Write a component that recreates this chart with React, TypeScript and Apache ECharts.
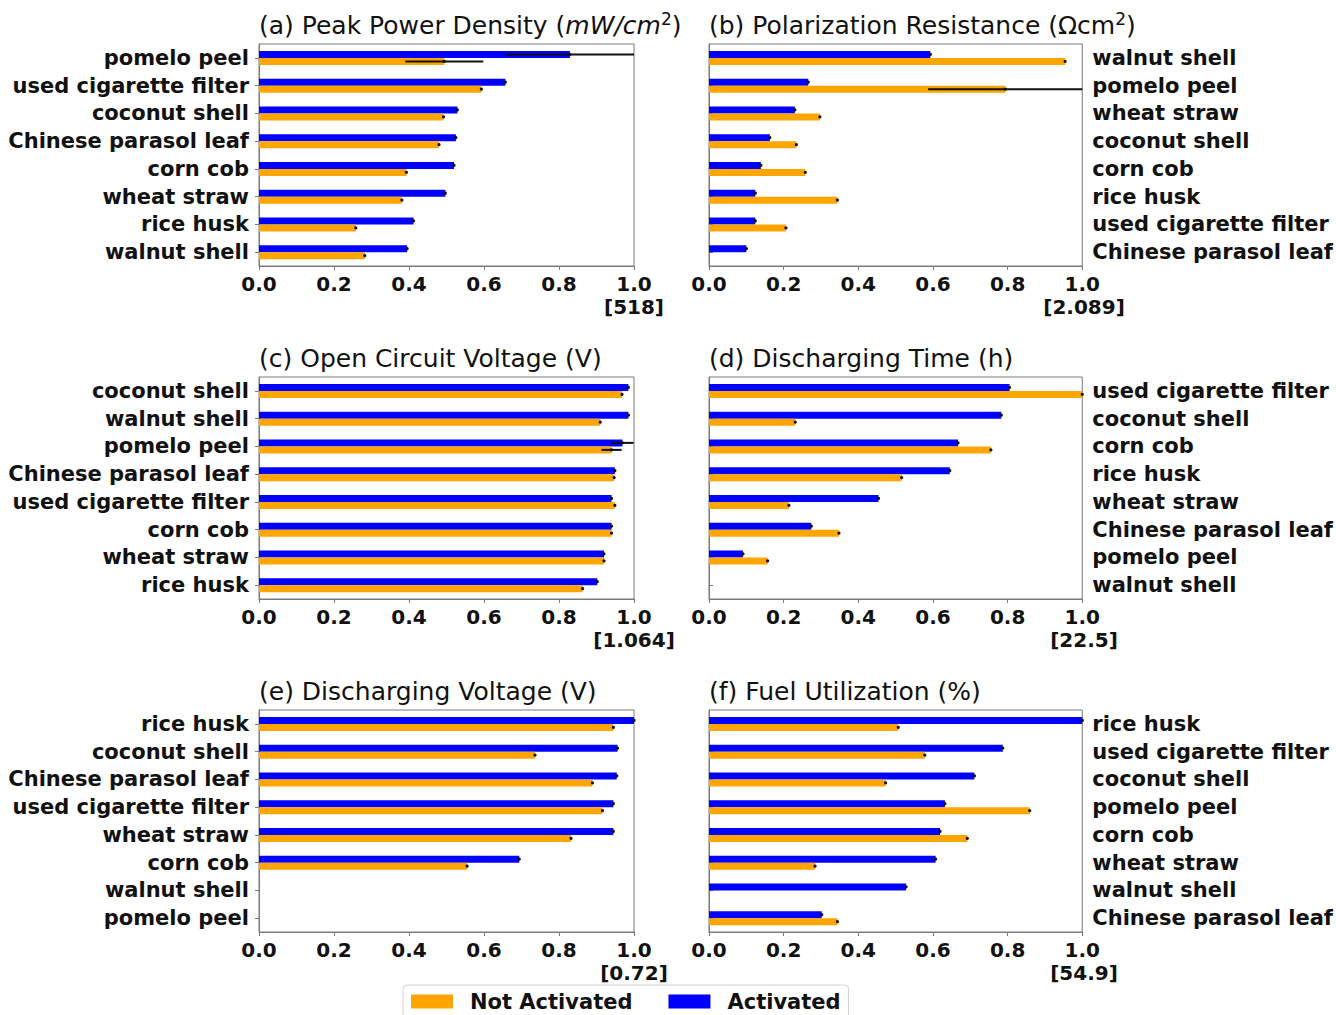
import React, { useEffect, useRef } from "react";
import * as echarts from "echarts";

// ---------- data (normalised values, 0..1) ----------
const CAT_A = ["pomelo peel", "used cigarette filter", "coconut shell", "Chinese parasol leaf", "corn cob", "wheat straw", "rice husk", "walnut shell"];
const ACT_A = [0.829, 0.657, 0.529, 0.525, 0.52, 0.497, 0.412, 0.395];
const NON_A = [0.494, 0.593, 0.492, 0.48, 0.393, 0.381, 0.258, 0.282];
const ACT_ERR_A = [0.173, 0, 0, 0, 0, 0, 0, 0];
const NON_ERR_A = [0.104, 0, 0, 0, 0, 0, 0, 0];

const CAT_B = ["walnut shell", "pomelo peel", "wheat straw", "coconut shell", "corn cob", "rice husk", "used cigarette filter", "Chinese parasol leaf"];
const ACT_B = [0.593, 0.266, 0.23, 0.163, 0.139, 0.124, 0.124, 0.1];
const NON_B = [0.954, 0.794, 0.297, 0.234, 0.258, 0.344, 0.206, null];
const ACT_ERR_B = [0, 0, 0, 0, 0, 0, 0, 0];
const NON_ERR_B = [0, 0.207, 0, 0, 0, 0, 0, 0];

const CAT_C = ["coconut shell", "walnut shell", "pomelo peel", "Chinese parasol leaf", "used cigarette filter", "corn cob", "wheat straw", "rice husk"];
const ACT_C = [0.985, 0.985, 0.969, 0.949, 0.94, 0.94, 0.92, 0.902];
const NON_C = [0.968, 0.91, 0.94, 0.947, 0.949, 0.94, 0.92, 0.863];
const ACT_ERR_C = [0, 0, 0.03, 0, 0, 0, 0, 0];
const NON_ERR_C = [0, 0, 0.027, 0, 0, 0, 0, 0];

const CAT_D = ["used cigarette filter", "coconut shell", "corn cob", "rice husk", "wheat straw", "Chinese parasol leaf", "pomelo peel", "walnut shell"];
const ACT_D = [0.805, 0.783, 0.667, 0.645, 0.454, 0.274, 0.091, null];
const NON_D = [1.0, 0.231, 0.755, 0.516, 0.214, 0.348, 0.157, null];
const ACT_ERR_D = [0, 0, 0, 0, 0, 0, 0, 0];
const NON_ERR_D = [0, 0, 0, 0, 0, 0, 0, 0];

const CAT_E = ["rice husk", "coconut shell", "Chinese parasol leaf", "used cigarette filter", "wheat straw", "corn cob", "walnut shell", "pomelo peel"];
const ACT_E = [1.0, 0.956, 0.954, 0.945, 0.945, 0.694, null, null];
const NON_E = [0.945, 0.736, 0.889, 0.916, 0.832, 0.555, null, null];
const ACT_ERR_E = [0, 0, 0, 0, 0, 0, 0, 0];
const NON_ERR_E = [0, 0, 0, 0, 0, 0, 0, 0];

const CAT_F = ["rice husk", "used cigarette filter", "coconut shell", "pomelo peel", "corn cob", "wheat straw", "walnut shell", "Chinese parasol leaf"];
const ACT_F = [1.0, 0.787, 0.711, 0.632, 0.619, 0.607, 0.528, 0.302];
const NON_F = [0.507, 0.578, 0.473, 0.859, 0.692, 0.284, null, 0.344];
const ACT_ERR_F = [0, 0, 0, 0, 0, 0, 0, 0];
const NON_ERR_F = [0, 0, 0, 0, 0, 0, 0, 0];

const TITLES = [
  "(a) Peak Power Density ({i|mW/cm}{sup|2})",
  "(b) Polarization Resistance (Ωcm{sup|2})",
  "(c) Open Circuit Voltage (V)",
  "(d) Discharging Time (h)",
  "(e) Discharging Voltage (V)",
  "(f) Fuel Utilization (%)",
];
const SCALE_LABELS = ["[518]", "[2.089]", "[1.064]", "[22.5]", "[0.72]", "[54.9]"];
const X_MAX = 1;
const X_INTERVAL = 0.2;

// ---------- styling ----------
const ORANGE = "#FFA500";
const BLUE = "#0000FF";
const SPINE = "#7a7a7a";
const TEXT = "#111";
const FONT = "DejaVu Sans";
const LABEL_SIZE = 21;
const TITLE_SIZE = 25;
const BAR_W = 7;
const GRID_W = 375;
const GRID_H = 222;
const COL_LEFT = [259, 709];
const ROW_TOP = [44, 377, 710];

const PANELS = [
  { cats: CAT_A, act: ACT_A, non: NON_A, ae: ACT_ERR_A, ne: NON_ERR_A },
  { cats: CAT_B, act: ACT_B, non: NON_B, ae: ACT_ERR_B, ne: NON_ERR_B },
  { cats: CAT_C, act: ACT_C, non: NON_C, ae: ACT_ERR_C, ne: NON_ERR_C },
  { cats: CAT_D, act: ACT_D, non: NON_D, ae: ACT_ERR_D, ne: NON_ERR_D },
  { cats: CAT_E, act: ACT_E, non: NON_E, ae: ACT_ERR_E, ne: NON_ERR_E },
  { cats: CAT_F, act: ACT_F, non: NON_F, ae: ACT_ERR_F, ne: NON_ERR_F },
];

function buildOption() {
  const grid: any[] = [];
  const xAxis: any[] = [];
  const yAxis: any[] = [];
  const series: any[] = [];
  const title: any[] = [];
  const graphic: any[] = [];

  PANELS.forEach((p, i) => {
    const col = i % 2;
    const row = Math.floor(i / 2);
    const left = COL_LEFT[col];
    const top = ROW_TOP[row];
    grid.push({
      left,
      top,
      width: GRID_W,
      height: GRID_H,
      show: true,
      borderColor: SPINE,
      borderWidth: 1,
      backgroundColor: "transparent",
      containLabel: false,
    });
    title.push({
      text: TITLES[i],
      left: left,
      top: top - 34,
      padding: 0,
      textStyle: {
        fontFamily: FONT,
        fontSize: TITLE_SIZE,
        fontWeight: "normal",
        color: TEXT,
        lineHeight: 30,
        rich: {
          i: { fontFamily: FONT, fontSize: TITLE_SIZE, fontStyle: "italic", color: TEXT, lineHeight: 30 },
          sup: { fontFamily: FONT, fontSize: 17, color: TEXT, verticalAlign: "top", lineHeight: 18 },
        },
      },
    });
    graphic.push({
      type: "text",
      x: left + GRID_W,
      y: top + GRID_H + 41,
      silent: true,
      style: {
        text: SCALE_LABELS[i],
        fontFamily: FONT,
        fontSize: LABEL_SIZE - 1,
        fontWeight: "bold",
        fill: TEXT,
        align: "center",
        verticalAlign: "middle",
      },
    });
    xAxis.push({
      type: "value",
      gridIndex: i,
      min: 0,
      max: X_MAX,
      interval: X_INTERVAL,
      splitLine: { show: false },
      axisLine: { show: true, lineStyle: { color: SPINE, width: 1 } },
      axisTick: { show: true, length: 4, lineStyle: { color: SPINE } },
      axisLabel: {
        fontFamily: FONT,
        fontSize: LABEL_SIZE - 1,
        fontWeight: "bold",
        color: TEXT,
        margin: 8,
        formatter: (v: number) => v.toFixed(1),
      },
    });
    yAxis.push({
      type: "category",
      gridIndex: i,
      data: p.cats,
      inverse: true,
      position: col === 0 ? "left" : "right",
      axisLine: { show: true, lineStyle: { color: SPINE, width: 1 } },
      axisTick: { show: true, length: 4, alignWithLabel: true, lineStyle: { color: SPINE } },
      axisLabel: {
        fontFamily: FONT,
        fontSize: LABEL_SIZE,
        fontWeight: "bold",
        color: TEXT,
        margin: 10,
      },
      splitLine: { show: false },
    });
    series.push({
      name: "Activated",
      type: "bar",
      xAxisIndex: i,
      yAxisIndex: i,
      data: p.act,
      barWidth: BAR_W,
      barGap: "0%",
      itemStyle: { color: BLUE },
    });
    series.push({
      name: "Not Activated",
      type: "bar",
      xAxisIndex: i,
      yAxisIndex: i,
      data: p.non,
      barWidth: BAR_W,
      barGap: "0%",
      itemStyle: { color: ORANGE },
    });
    const errData: any[] = [];
    p.cats.forEach((_, k) => {
      errData.push([p.act[k] == null ? NaN : p.act[k], k, p.ae[k], -1]);
      errData.push([p.non[k] == null ? NaN : p.non[k], k, p.ne[k], 1]);
    });
    series.push({
      type: "custom",
      xAxisIndex: i,
      yAxisIndex: i,
      z: 5,
      clip: false,
      silent: true,
      encode: { x: 0, y: 1 },
      data: errData,
      renderItem: (params: any, api: any) => {
        const v = api.value(0);
        if (!(v > 0)) return { type: "group", children: [] };
        const idx = api.value(1);
        const e = api.value(2) || 0;
        const s = api.value(3);
        const cs = params.coordSys;
        const pt = api.coord([v, idx]);
        const y = pt[1] + (s * BAR_W) / 2;
        const clamp = (x: number) => Math.max(cs.x, Math.min(cs.x + cs.width, x));
        const children: any[] = [];
        if (e > 0) {
          const lo = clamp(api.coord([v - e, idx])[0]);
          const hi = clamp(api.coord([v + e, idx])[0]);
          children.push({
            type: "line",
            shape: { x1: lo, y1: y, x2: hi, y2: y },
            style: { stroke: "#111", lineWidth: 2 },
          });
        }
        children.push({
          type: "circle",
          shape: { cx: Math.min(pt[0], cs.x + cs.width), cy: y, r: 1.6 },
          style: { fill: "#111" },
        });
        return { type: "group", children };
      },
    });
  });

  return {
    animation: false,
    backgroundColor: "#fff",
    title,
    grid,
    xAxis,
    yAxis,
    series,
    graphic,
    legend: {
      data: ["Not Activated", "Activated"],
      left: 403,
      top: 985,
      orient: "horizontal",
      icon: "rect",
      itemWidth: 42,
      itemHeight: 14,
      itemGap: 36,
      padding: [6, 8, 8, 8],
      borderColor: "#d0d0d0",
      borderWidth: 1,
      borderRadius: 4,
      backgroundColor: "#fff",
      textStyle: {
        fontFamily: FONT,
        fontSize: LABEL_SIZE,
        fontWeight: "bold",
        color: TEXT,
        padding: [0, 0, 0, 12],
      },
    },
  };
}

export default function App() {
  const ref = useRef<HTMLDivElement>(null);
  useEffect(() => {
    if (!ref.current) return;
    const chart = echarts.init(ref.current, undefined, { renderer: "svg" });
    chart.setOption(buildOption() as any);
    return () => chart.dispose();
  }, []);
  return (
    <div
      ref={ref}
      style={{ position: "fixed", left: 0, top: 0, width: 1336, height: 1015, background: "#fff" }}
    />
  );
}
